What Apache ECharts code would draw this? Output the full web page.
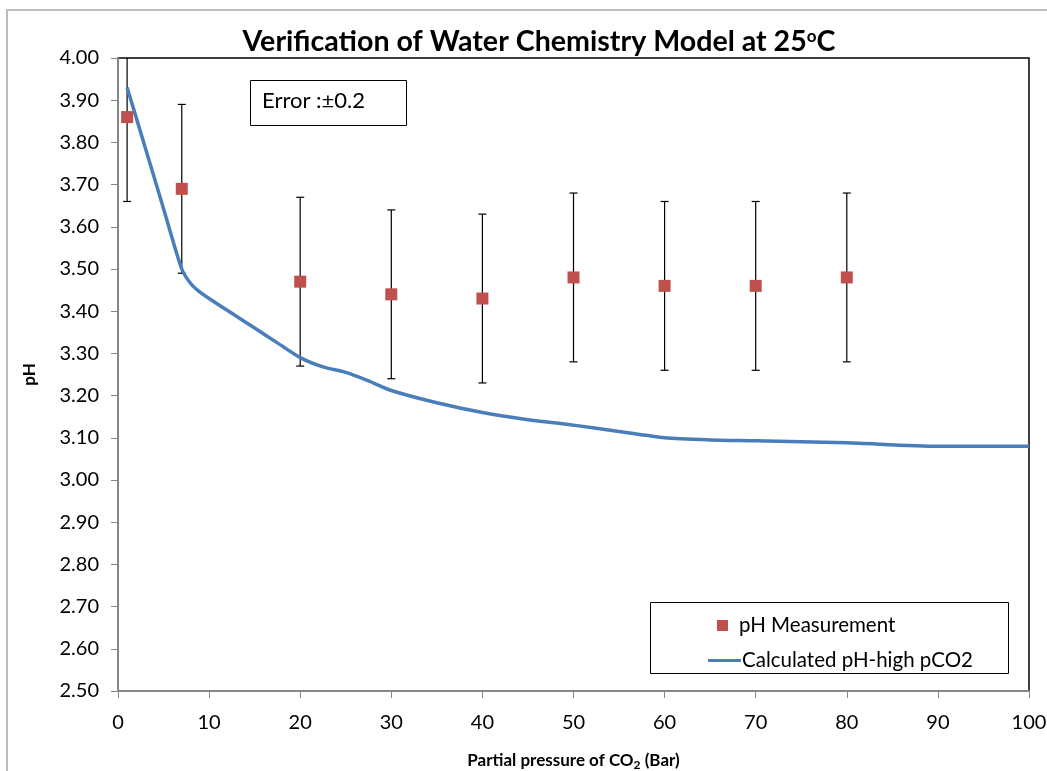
<!DOCTYPE html>
<html><head><meta charset="utf-8">
<script src="https://cdn.jsdelivr.net/npm/echarts@6/dist/echarts.min.js"></script>
<style>html,body{margin:0;padding:0;background:#fff}#c{width:1047px;height:771px}</style>
</head><body><div id="c"></div>
<script>
// Data
const measX = [1, 7, 20, 30, 40, 50, 60, 70, 80];
const measPH = [3.86, 3.69, 3.47, 3.44, 3.43, 3.48, 3.46, 3.46, 3.48];
const errVal = 0.2;
const calcX = [1, 3, 5, 7, 8, 9, 10, 12.5, 15, 17.5, 20, 22.5, 25, 27.5, 30, 35, 40, 45, 50, 55, 60, 65, 70, 80, 90, 100];
const calcPH = [3.93, 3.787, 3.643, 3.50, 3.465, 3.445, 3.43, 3.395, 3.36, 3.325, 3.29, 3.268, 3.255, 3.235, 3.212, 3.183, 3.16, 3.143, 3.13, 3.115, 3.10, 3.095, 3.093, 3.088, 3.08, 3.08];
const xTicks = [0, 10, 20, 30, 40, 50, 60, 70, 80, 90, 100];

const FONT = 'Lato';
const chart = echarts.init(document.getElementById('c'));
const errData = measX.map((x, i) => [x, measPH[i] - errVal, measPH[i] + errVal]);

chart.setOption({
  animation: false,
  textStyle: {fontFamily: FONT},
  title: {
    text: '{a|Verification of Water Chemistry Model at 25}{s|o}{a|C}',
    left: 534, top: 22, textAlign: 'center',
    textStyle: {
      rich: {
        a: {fontSize: 28.6, fontWeight: 'bold', fontFamily: FONT, color: '#000'},
        s: {fontSize: 17, fontWeight: 'bold', fontFamily: FONT, color: '#000', padding: [0, 0, 10, 0]}
      }
    }
  },
  grid: {left: 118, right: 18, top: 58, bottom: 80, show: true, borderColor: '#000', borderWidth: 1.5,
         backgroundColor: '#fff', containLabel: false, outerBoundsMode: 'none'},
  legend: [
    {data: [{name: 'pH Measurement', icon: 'rect'}], left: 712, top: 610, itemWidth: 11, itemHeight: 11, itemGap: 0,
     textStyle: {fontSize: 20.5, fontFamily: FONT, color: '#000', padding: [0, 0, 0, 6]}},
    {data: [{name: 'Calculated pH-high pCO2', icon: 'rect'}], left: 703, top: 645, itemWidth: 33, itemHeight: 3,
     textStyle: {fontSize: 20.5, fontFamily: FONT, color: '#000', padding: [0, 0, 0, -4]}}
  ],
  xAxis: {
    type: 'value', min: 0, max: 100, interval: 10,
    name: '{a|Partial pressure of CO}{b|2}{a| (Bar)}', nameLocation: 'middle', nameGap: 60,
    nameTextStyle: {rich: {
      a: {fontSize: 17, fontWeight: 'bold', fontFamily: FONT, color: '#000'},
      b: {fontSize: 12, fontWeight: 'bold', fontFamily: FONT, color: '#000', padding: [8, 0, 0, 0]}
    }},
    axisLine: {lineStyle: {color: '#868686', width: 2}},
    axisTick: {show: true, inside: false, length: 7, lineStyle: {color: '#868686', width: 1}},
    axisLabel: {fontSize: 20, color: '#000', margin: 22, fontFamily: FONT,
      formatter: v => xTicks.includes(v) ? String(v) : ''},
    splitLine: {show: false}
  },
  yAxis: {
    type: 'value', min: 2.5, max: 4.0, interval: 0.1,
    name: 'pH', nameLocation: 'middle', nameGap: 80, nameRotate: 90,
    nameTextStyle: {fontSize: 17, fontWeight: 'bold', color: '#000', fontFamily: FONT},
    axisLine: {show: true, lineStyle: {color: '#868686', width: 2}},
    axisTick: {show: true, length: 7, lineStyle: {color: '#868686', width: 1}},
    axisLabel: {fontSize: 20, color: '#000', margin: 19, fontFamily: FONT, formatter: v => v.toFixed(2)},
    splitLine: {show: false}
  },
  series: [
    {
      type: 'custom', name: 'err', clip: true, z: 2,
      data: errData,
      renderItem: function (params, api) {
        const p1 = api.coord([api.value(0), api.value(1)]);
        const p2 = api.coord([api.value(0), api.value(2)]);
        const h = 4;
        const st = {stroke: '#000', lineWidth: 1.2};
        return {type: 'group', children: [
          {type: 'line', shape: {x1: p1[0], y1: p1[1], x2: p2[0], y2: p2[1]}, style: st},
          {type: 'line', shape: {x1: p1[0] - h, y1: p1[1], x2: p1[0] + h, y2: p1[1]}, style: st},
          {type: 'line', shape: {x1: p2[0] - h, y1: p2[1], x2: p2[0] + h, y2: p2[1]}, style: st}
        ]};
      }
    },
    {
      type: 'line', name: 'Calculated pH-high pCO2', z: 3,
      data: calcX.map((x, i) => [x, calcPH[i]]),
      smooth: 0.25, symbol: 'none', showSymbol: false,
      lineStyle: {color: '#4A7EBB', width: 3.5}, itemStyle: {color: '#4A7EBB'}
    },
    {
      type: 'scatter', name: 'pH Measurement', z: 4,
      data: measX.map((x, i) => [x, measPH[i]]),
      symbol: 'rect', symbolSize: 12,
      itemStyle: {color: '#C0504D', opacity: 1}
    }
  ],
  graphic: [
    {type: 'rect', shape: {x: 7, y: 10, width: 1100, height: 900}, style: {fill: 'none', stroke: '#BDBDBD', lineWidth: 2}, z: -10, silent: true},
    {type: 'rect', shape: {x: 250.5, y: 80.5, width: 156, height: 45}, style: {fill: '#fff', stroke: '#000', lineWidth: 1}, z: 10},
    {type: 'text', left: 262, top: 90, style: {text: 'Error :±0.2', fontSize: 22, fontFamily: FONT, fill: '#000'}, z: 11},
    {type: 'rect', shape: {x: 650.5, y: 602.5, width: 358, height: 71}, style: {fill: '#fff', stroke: '#000', lineWidth: 1}, z: 0}
  ]
});
</script></body></html>
